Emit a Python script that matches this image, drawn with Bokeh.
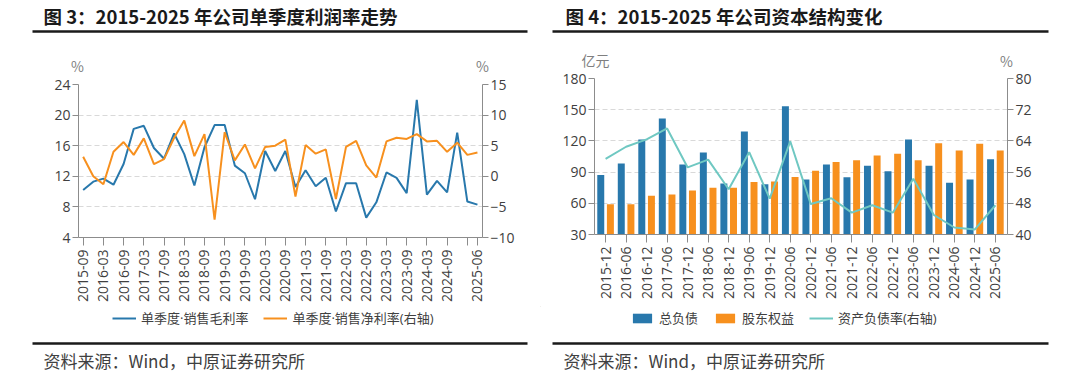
import math
from bokeh.plotting import figure
from bokeh.models import (Range1d, LinearAxis, FixedTicker, Legend, LegendItem,
                          ColumnDataSource)
from bokeh.transform import dodge
from bokeh.layouts import column, row
from bokeh.embed import file_html
from bokeh.resources import INLINE
from bokeh.core.properties import value

# ---------------- data ----------------
quarters = ["2015-09", "2015-12",
            "2016-03", "2016-06", "2016-09", "2016-12",
            "2017-03", "2017-06", "2017-09", "2017-12",
            "2018-03", "2018-06", "2018-09", "2018-12",
            "2019-03", "2019-06", "2019-09", "2019-12",
            "2020-03", "2020-06", "2020-09", "2020-12",
            "2021-03", "2021-06", "2021-09", "2021-12",
            "2022-03", "2022-06", "2022-09", "2022-12",
            "2023-03", "2023-06", "2023-09", "2023-12",
            "2024-03", "2024-06", "2024-09", "2024-12",
            "2025-03", "2025-06"]
gross_margin = [10.2, 11.3, 11.7, 10.9, 13.6, 18.2, 18.6, 15.7, 14.3, 17.6,
                14.9, 10.8, 15.8, 18.7, 18.7, 13.4, 12.4, 9.0, 15.3, 12.7,
                15.3, 10.6, 12.8, 10.7, 11.8, 7.4, 11.1, 11.1, 6.6, 8.6,
                12.5, 11.8, 9.8, 22.0, 9.6, 11.4, 9.9, 17.7, 8.7, 8.3]
net_margin = [3.2, 0.0, -1.3, 4.0, 5.6, 3.5, 6.2, 2.0, 2.8, 6.3,
              9.1, 3.3, 6.9, -7.1, 7.2, 2.6, 5.2, 1.3, 4.8, 5.0,
              6.0, -3.3, 5.1, 3.7, 4.4, -3.7, 4.8, 5.8, 1.8, -0.2,
              5.7, 6.3, 6.1, 6.9, 5.7, 5.8, 4.0, 5.5, 3.5, 3.9]
quarter_tick_labels = ["2015-09", "2016-03", "2016-09", "2017-03", "2017-09",
                       "2018-03", "2018-09", "2019-03", "2019-09", "2020-03",
                       "2020-09", "2021-03", "2021-09", "2022-03", "2022-09",
                       "2023-03", "2023-09", "2024-03", "2024-09", "", "2025-06"]

half_years = ["2015-12", "2016-06", "2016-12", "2017-06", "2017-12",
              "2018-06", "2018-12", "2019-06", "2019-12", "2020-06",
              "2020-12", "2021-06", "2021-12", "2022-06", "2022-12",
              "2023-06", "2023-12", "2024-06", "2024-12", "2025-06"]
total_liabilities = [87.1, 98.3, 121.3, 141.5, 97.3, 108.8, 79.0, 129.0, 78.4, 153.4,
                     82.9, 97.3, 85.1, 96.0, 90.9, 121.3, 96.0, 79.7, 82.9, 102.4]
equity = [59.2, 59.2, 67.2, 68.5, 72.3, 74.9, 74.9, 80.6, 81.0, 85.4,
          91.2, 99.6, 101.5, 106.0, 107.6, 101.5, 117.8, 110.8, 117.2, 110.8]
debt_ratio = [59.4, 62.5, 64.4, 67.2, 57.2, 59.2, 51.6, 61.1, 49.2, 63.9,
              47.8, 49.3, 45.6, 47.5, 45.6, 54.3, 45.0, 41.8, 41.3, 47.5]

title_left = "图 3：2015-2025 年公司单季度利润率走势"
title_right = "图 4：2015-2025 年公司资本结构变化"
source_text = "资料来源：Wind，中原证券研究所"
legend_left = ["单季度·销售毛利率", "单季度·销售净利率(右轴)"]
legend_right = ["总负债", "股东权益", "资产负债率(右轴)"]
unit_left = ["%", "%"]
unit_right = ["亿元", "%"]

# ---------------- style ----------------
FONT_NUM = "Open Sans"
FONT_CJK = "Noto Sans CJK SC"
FONT_MIX = "Open Sans, Noto Sans CJK SC"
BLUE = "#2878ac"
ORANGE = "#f7901e"
TEAL = "#6fc8c2"
GRID = "#d9d9d9"
AXIS = "#8c8c8c"
TXT = "#404040"
DARK = "#1a1a1a"
UNIT = "#7f7f7f"


def blank(w, h):
    return figure(width=w, height=h, x_range=Range1d(0, w), y_range=Range1d(h, 0),
                  output_backend="svg", toolbar_location=None, min_border=0,
                  x_axis_type=None, y_axis_type=None, outline_line_color=None, title=None)


def header(text, xt, x0, x1):
    p = blank(540, 36)
    p.text(x=[xt], y=[15], text=[text], text_font=value(FONT_CJK), text_font_style="bold",
           text_font_size="18.5px", text_baseline="middle", text_color=DARK)
    p.segment(x0=[x0], y0=[31], x1=[x1], y1=[31], line_width=2.5, line_color=DARK)
    return p


def units_fig(h, xs, ys, texts):
    p = blank(540, h)
    p.text(x=xs, y=ys, text=texts, text_font=value(FONT_CJK), text_font_size="14px",
           text_align="center", text_baseline="middle", text_color=UNIT)
    return p


def footer(xt, x0, x1):
    p = blank(540, 40)
    p.segment(x0=[x0], y0=[8], x1=[x1], y1=[8], line_width=2.5, line_color=DARK)
    p.text(x=[xt], y=[25], text=[source_text], text_font=value(FONT_CJK),
           text_font_size="17px", text_baseline="middle", text_color=TXT)
    return p


def legend_fig(specs, labels, x_start):
    # legend strip: the sample renderers sit outside the visible strip, only their
    # legend glyphs are shown
    p = blank(540, 29)
    items = []
    for (kind, color), lab in zip(specs, labels):
        if kind == "line":
            r = p.line(x=[-60, -50], y=[-60, -60], line_color=color, line_width=2)
        else:
            r = p.vbar(x=[-60], top=[-60], bottom=-70, width=5, fill_color=color, line_color=None)
        items.append(LegendItem(label=lab, renderers=[r]))
    leg = Legend(items=items, orientation="horizontal", location=(x_start, 8),
                 border_line_color=None, background_fill_alpha=0,
                 label_text_font=FONT_MIX, label_text_font_size="13px", label_text_color=TXT,
                 glyph_width=24, glyph_height=12, label_standoff=5, spacing=15,
                 padding=0, margin=0, label_height=14)
    p.add_layout(leg, "center")
    return p


def style_axis(ax, size="14px", tick_out=6):
    ax.axis_line_color = AXIS
    ax.major_tick_line_color = AXIS
    ax.minor_tick_line_color = None
    ax.major_tick_in = 0
    ax.major_tick_out = tick_out
    ax.major_label_text_color = TXT
    ax.major_label_text_font = FONT_NUM
    ax.major_label_text_font_size = size
    ax.major_label_standoff = 2


def style_x(p):
    for ax in p.xaxis:
        style_axis(ax, size="14px", tick_out=8)
        ax.major_label_orientation = math.pi / 2
        ax.major_label_standoff = 4
    p.xgrid.visible = False
    p.ygrid.grid_line_color = GRID
    p.ygrid.grid_line_dash = "5 3"


# ---------------- left chart ----------------
xq = list(range(len(quarters)))
tick_idx = list(range(0, len(quarters) - 1, 2)) + [len(quarters) - 1]

p1 = figure(width=540, height=232, x_range=Range1d(-0.46, 39.5), y_range=Range1d(4, 24),
            output_backend="svg", toolbar_location=None, title=None,
            min_border_left=78, min_border_right=58, min_border_top=10, min_border_bottom=69,
            outline_line_color=None)
p1.extra_y_ranges = {"right": Range1d(-10, 15)}
left_ticks = [4, 8, 12, 16, 20, 24]
p1.yaxis[0].ticker = FixedTicker(ticks=left_ticks)
p1.ygrid.ticker = FixedTicker(ticks=left_ticks)
p1.add_layout(LinearAxis(y_range_name="right", ticker=FixedTicker(ticks=[-10, -5, 0, 5, 10, 15])), "right")
p1.xaxis.ticker = FixedTicker(ticks=tick_idx)
p1.xaxis.major_label_overrides = {i: lab for i, lab in zip(tick_idx, quarter_tick_labels)}
for ax in p1.yaxis:
    style_axis(ax)
style_x(p1)

p1.line(xq, gross_margin, line_color=BLUE, line_width=2)
p1.line(xq, net_margin, line_color=ORANGE, line_width=2, y_range_name="right")

# ---------------- right chart ----------------
xh = list(range(len(half_years)))
src = ColumnDataSource(dict(x=xh, liab=total_liabilities, eq=equity, ratio=debt_ratio))

p2 = figure(width=540, height=237, x_range=Range1d(-0.54, 19.59), y_range=Range1d(30, 180),
            output_backend="svg", toolbar_location=None, title=None,
            min_border_left=54, min_border_right=73, min_border_top=9, min_border_bottom=72,
            outline_line_color=None)
p2.extra_y_ranges = {"right": Range1d(40, 80)}
lt2 = [30, 60, 90, 120, 150, 180]
p2.yaxis[0].ticker = FixedTicker(ticks=lt2)
p2.ygrid.ticker = FixedTicker(ticks=lt2)
p2.add_layout(LinearAxis(y_range_name="right", ticker=FixedTicker(ticks=[40, 48, 56, 64, 72, 80])), "right")
p2.xaxis.ticker = FixedTicker(ticks=xh)
p2.xaxis.major_label_overrides = {i: lab for i, lab in zip(xh, half_years)}
for ax in p2.yaxis:
    style_axis(ax)
style_x(p2)

p2.vbar(x=dodge("x", -0.235, range=p2.x_range), top="liab", bottom=30, width=0.34,
        source=src, fill_color=BLUE, line_color=None)
p2.vbar(x=dodge("x", 0.235, range=p2.x_range), top="eq", bottom=30, width=0.34,
        source=src, fill_color=ORANGE, line_color=None)
p2.line(x="x", y="ratio", source=src, line_color=TEAL, line_width=2, y_range_name="right")

# ---------------- layout ----------------
# each strip is wrapped in its own row so that the column does not align its frame
# with the chart frame
left_col = column(
    row(header(title_left, 43, 32, 527)),
    row(units_fig(38, [77, 482], [29, 29], unit_left)),
    p1,
    row(legend_fig([("line", BLUE), ("line", ORANGE)], legend_left, 112)),
    row(footer(43, 32, 527)),
)
right_col = column(
    row(header(title_right, 25, 12, 508)),
    row(units_fig(33, [55, 466], [23, 24], unit_right)),
    p2,
    row(legend_fig([("bar", BLUE), ("bar", ORANGE), ("line", TEAL)], legend_right, 90)),
    row(footer(23, 12, 508)),
)
layout = row(left_col, right_col)

open("out.html", "w").write(file_html(layout, INLINE))
